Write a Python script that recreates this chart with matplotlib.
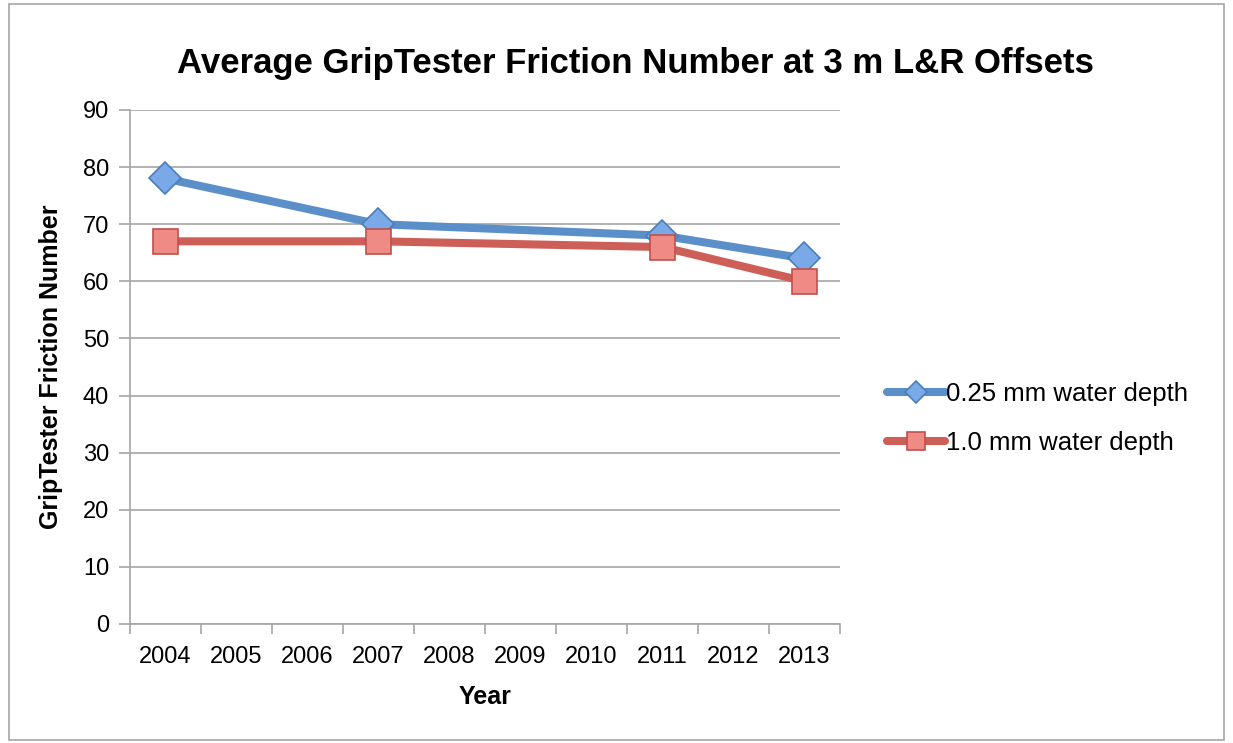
import matplotlib
matplotlib.use('Agg')
import matplotlib.pyplot as plt
from matplotlib.patches import Rectangle

# Data
years = ['2004', '2005', '2006', '2007', '2008', '2009', '2010', '2011', '2012', '2013']
measured_years = ['2004', '2007', '2011', '2013']
fn_025 = [78, 70, 68, 64]
fn_100 = [67, 67, 66, 60]
labels = ['0.25 mm water depth', '1.0 mm water depth']

plt.rcParams['font.family'] = ['Liberation Sans', 'DejaVu Sans']

fig = plt.figure(figsize=(12.33, 7.43), dpi=100)
ax = fig.add_axes([0.1054, 0.1602, 0.5758, 0.6918])

# outer chart border
fig.patches.append(Rectangle((0.007, 0.004), 0.986, 0.99, transform=fig.transFigure,
                             fill=False, edgecolor='#a6a6a6', linewidth=1.2))

xpos = [years.index(y) for y in measured_years]

ax.plot(xpos, fn_025, color='#5b8fc9', linewidth=5.8, solid_capstyle='round',
        marker='D', markersize=16, markerfacecolor='#79a9e6',
        markeredgecolor='#4a7ebb', markeredgewidth=1.2, zorder=3, label=labels[0])
ax.plot(xpos, fn_100, color='#cd5f58', linewidth=5.8, solid_capstyle='round',
        marker='s', markersize=18, markerfacecolor='#f08a85',
        markeredgecolor='#c0504d', markeredgewidth=1.2, zorder=4, label=labels[1])

ax.set_xlim(-0.5, len(years) - 0.5)
ax.set_ylim(0, 90)
ax.set_yticks(range(0, 91, 10))
ax.set_xticks(range(len(years)))
ax.set_xticklabels(years)
ax.set_xticks([i - 0.5 for i in range(len(years) + 1)], minor=True)
ax.tick_params(axis='x', which='major', length=0, labelsize=17, pad=16)
ax.tick_params(axis='x', which='minor', length=7, color='#a6a6a6', width=1.2)
ax.tick_params(axis='y', length=8, color='#a6a6a6', width=1.2, labelsize=17, pad=7)

ax.yaxis.grid(True, color='#a6a6a6', linewidth=1.2)
ax.set_axisbelow(True)
for side in ['top', 'right']:
    ax.spines[side].set_visible(False)
for side in ['left', 'bottom']:
    ax.spines[side].set_color('#a6a6a6')
    ax.spines[side].set_linewidth(1.2)

ax.set_xlabel('Year', fontsize=18, fontweight='bold', labelpad=12)
ax.set_ylabel('GripTester Friction Number', fontsize=18, fontweight='bold', labelpad=14)
fig.suptitle('Average GripTester Friction Number at 3 m L&R Offsets',
             fontsize=25, fontweight='bold', x=0.515, y=0.937)

ax.legend(loc='center left', bbox_to_anchor=(1.034, 0.40), frameon=False,
          fontsize=18.5, handlelength=2.25, handletextpad=0.05, labelspacing=0.95,
          markerscale=0.7)

fig.savefig('out.png', dpi=100)
